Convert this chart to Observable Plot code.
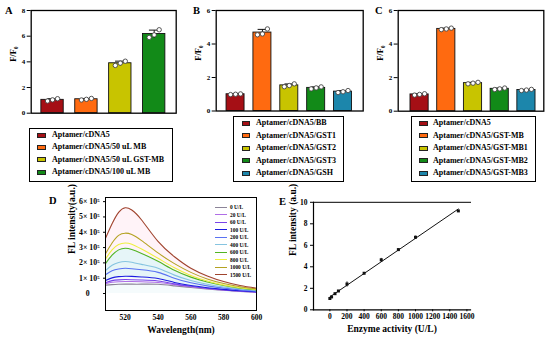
<!DOCTYPE html>
<html><head><meta charset="utf-8">
<script src="https://cdn.jsdelivr.net/npm/d3@7"></script>
<script src="https://cdn.jsdelivr.net/npm/@observablehq/plot@0.6"></script>
<style>
body{margin:0;background:#fff;}
#fig{position:relative;width:550px;height:339px;background:#fff;overflow:hidden;font-family:"Liberation Serif","Times New Roman",serif;font-weight:bold;color:#000;}
#fig svg{position:absolute;}
.lg{position:absolute;border:1px solid #000;box-sizing:border-box;background:#fff;}
.row{position:absolute;font-size:8px;line-height:10px;white-space:nowrap;}
.sw{position:absolute;border:0.8px solid #222;box-sizing:border-box;}
.letter{position:absolute;font-size:10.5px;line-height:1;}
.dl{position:absolute;font-size:5.4px;line-height:6px;white-space:nowrap;}
.dline{position:absolute;height:0;border-top:1.2px solid;}
</style></head><body><div id="fig"></div><script>
// ---------- data ----------
const RED="#a50f15", ORANGE="#ff6a10", YELLOW="#c8c400", GREEN="#128a18", TEAL="#1c86ab";

const aCategories=["Aptamer/cDNA5","Aptamer/cDNA5/50 uL MB","Aptamer/cDNA5/50 uL GST-MB","Aptamer/cDNA5/100 uL MB"];
const aRep1=[0.95,1.03,3.72,5.90];
const aRep2=[1.04,1.08,3.90,6.10];
const aRep3=[1.13,1.15,4.05,6.50];
const aColors=[RED,ORANGE,YELLOW,GREEN];

const bCategories=["Aptamer/cDNA5/BB","Aptamer/cDNA5/GST1","Aptamer/cDNA5/GST2","Aptamer/cDNA5/GST3","Aptamer/cDNA5/GSH"];
const bRep1=[0.98,4.55,1.45,1.32,1.10];
const bRep2=[1.00,4.60,1.52,1.38,1.15];
const bRep3=[1.02,4.90,1.62,1.44,1.22];
const bColors=[RED,ORANGE,YELLOW,GREEN,TEAL];

const cCategories=["Aptamer/cDNA5","Aptamer/cDNA5/GST-MB","Aptamer/cDNA5/GST-MB1","Aptamer/cDNA5/GST-MB2","Aptamer/cDNA5/GST-MB3"];
const cRep1=[0.96,4.86,1.63,1.29,1.23];
const cRep2=[1.00,4.90,1.67,1.33,1.26];
const cRep3=[1.04,4.95,1.72,1.38,1.30];
const cColors=[RED,ORANGE,YELLOW,GREEN,TEAL];

const dWavelength=[508,512,516,520,524,530,540,550,560,570,580,590,600];
const dLevels=["0 U/L","20 U/L","60 U/L","100 U/L","200 U/L","400 U/L","600 U/L","800 U/L","1000 U/L","1500 U/L"];
const dColors=["#8c8498","#b06ee6","#7a44e8","#1c1ce0","#5a72f2","#86c4e0","#52b424","#eef040","#b4a222","#a0442e"];
const d0   =[0.55,0.58,0.60,0.61,0.61,0.61,0.60,0.50,0.39,0.29,0.21,0.14,0.08];
const d20  =[0.64,0.73,0.77,0.78,0.78,0.77,0.72,0.58,0.44,0.32,0.23,0.15,0.09];
const d60  =[0.70,0.84,0.89,0.91,0.90,0.88,0.82,0.63,0.47,0.34,0.24,0.16,0.10];
const d100 =[0.85,1.02,1.10,1.13,1.12,1.08,0.98,0.72,0.52,0.38,0.27,0.18,0.11];
const d200 =[1.22,1.48,1.60,1.65,1.62,1.55,1.38,1.00,0.70,0.50,0.35,0.24,0.15];
const d400 =[1.50,1.85,2.03,2.09,2.04,1.90,1.65,1.20,0.85,0.60,0.42,0.29,0.19];
const d600 =[1.95,2.50,2.85,2.96,2.88,2.62,2.10,1.52,1.07,0.75,0.52,0.35,0.24];
const d800 =[2.25,2.85,3.20,3.30,3.22,2.90,2.30,1.68,1.18,0.82,0.56,0.38,0.26];
const d1000=[2.60,3.30,3.80,3.94,3.85,3.45,2.65,1.95,1.38,0.95,0.65,0.44,0.30];
const d1500=[3.60,4.55,5.30,5.60,5.45,4.80,3.40,2.40,1.65,1.15,0.78,0.52,0.35];
const dSeries=[d0,d20,d60,d100,d200,d400,d600,d800,d1000,d1500];

const eActivity=[0,20,60,100,200,400,600,800,1000,1500];
const eIntensity=[1.05,1.20,1.50,1.75,2.40,3.40,4.65,5.60,6.75,9.20];
const eError=[0.05,0.05,0.08,0.06,0.25,0.08,0.18,0.10,0.15,0.08];

// ---------- layout helpers ----------
const fig=document.getElementById("fig");
function put(el,left,top){el.style.left=left+"px";el.style.top=top+"px";fig.append(el);return el;}
function letter(t,left,top){const d=document.createElement("div");d.className="letter";d.textContent=t;put(d,left,top);}
const baseStyle={fontFamily:"Liberation Serif, Times New Roman, serif",fontWeight:"bold",fontSize:"7px",background:"transparent",overflow:"visible"};

function barPanel(cfg){
  const data=cfg.cats.map((c,k)=>{const r=[cfg.r1[k],cfg.r2[k],cfg.r3[k]];const m=d3.mean(r),s=d3.deviation(r);
    return {i:k+1,cat:c,mean:m,lo:m-s,hi:m+s,r1:r[0],r2:r[1],r3:r[2],color:cfg.colors[k]};});
  const dotOpt={r:2.2,fill:"white",stroke:"#444",strokeWidth:0.9};
  return Plot.plot({
    width:cfg.w,height:cfg.h,marginLeft:cfg.ml,marginRight:cfg.mr,marginTop:cfg.mt,marginBottom:cfg.mb,
    style:baseStyle,
    x:{domain:cfg.xdom,axis:null},
    y:{domain:[0,cfg.ymax],axis:null},
    color:{type:"identity"},
    marks:[
      Plot.rect(data,{x1:d=>d.i-cfg.hw,x2:d=>d.i+cfg.hw,y1:0,y2:"mean",fill:"color",stroke:"#111",strokeWidth:0.9}),
      Plot.link(data,{x1:"i",x2:"i",y1:"lo",y2:"hi",stroke:"#111",strokeWidth:1}),
      Plot.ruleY(data,{y:"hi",x1:d=>d.i-cfg.cap,x2:d=>d.i+cfg.cap,stroke:"#111",strokeWidth:1}),
      Plot.dot(data,{x:"i",y:"r1",dx:-5,...dotOpt}),
      Plot.dot(data,{x:"i",y:"r2",dx:0,...dotOpt}),
      Plot.dot(data,{x:"i",y:"r3",dx:5,...dotOpt}),
      Plot.frame({stroke:"#000",strokeWidth:1.3}),
      Plot.axisY({ticks:cfg.yticks,tickSize:4,tickPadding:2,tickFormat:d3.format("d"),label:null}),
      Plot.text(["F/F\u2080"],{frameAnchor:"left",dx:-cfg.labDx,rotate:-90,fontSize:8.5})
    ]
  });
}

function boxLegend(cfg){
  const box=document.createElement("div");box.className="lg";
  box.style.width=cfg.w+"px";box.style.height=cfg.h+"px";
  put(box,cfg.left,cfg.top);
  cfg.labels.forEach((lab,k)=>{
    const cy=cfg.row0+k*cfg.step;
    const sw=document.createElement("div");sw.className="sw";
    sw.style.width="8.5px";sw.style.height="5px";sw.style.background=cfg.colors[k];
    put(sw,cfg.swX,cy-2.5);
    const t=document.createElement("div");t.className="row";t.textContent=lab;
    put(t,cfg.txX,cy-5);
  });
}

// ---------- Panel A ----------
put(barPanel({cats:aCategories,r1:aRep1,r2:aRep2,r3:aRep3,colors:aColors,
  w:185,h:125,ml:30.7,mr:9.3,mt:10,mb:12.3,xdom:[0.37,4.65],ymax:8,yticks:[0,2,4,6,8],hw:0.33,cap:0.14,labDx:18}),0,0);
boxLegend({labels:aCategories,colors:aColors,left:29,top:127.5,w:144,h:54.5,row0:135,step:12.4,swX:37,txX:52});
letter("A",5,6);

// ---------- Panel B ----------
put(barPanel({cats:bCategories,r1:bRep1,r2:bRep2,r3:bRep3,colors:bColors,
  w:185,h:125,ml:35.7,mr:2.3,mt:10,mb:14.5,xdom:[0.28,5.75],ymax:6,yticks:[0,2,4,6],hw:0.335,cap:0.16,labDx:18}),180,0);
boxLegend({labels:bCategories,colors:bColors,left:233,top:116,w:111,h:66,row0:123,step:12.5,swX:241.5,txX:256});
letter("B",193,6);

// ---------- Panel C ----------
put(barPanel({cats:cCategories,r1:cRep1,r2:cRep2,r3:cRep3,colors:cColors,
  w:190,h:125,ml:37.7,mr:6.7,mt:10,mb:14.3,xdom:[0.2,5.65],ymax:6,yticks:[0,2,4,6],hw:0.34,cap:0.16,labDx:18}),360,0);
boxLegend({labels:cCategories,colors:cColors,left:410.5,top:116,w:125,h:65.5,row0:123,step:12.5,swX:419,txX:433});
letter("C",375,6);

// ---------- Panel D ----------
const dData=dLevels.flatMap((lv,k)=>dWavelength.map((w,j)=>({level:lv,w,v:dSeries[k][j]})));
put(Plot.plot({
  width:225,height:144,marginLeft:65,marginRight:9,marginTop:2,marginBottom:29,
  style:baseStyle,
  x:{domain:[508,600],axis:null},
  y:{domain:[-1.11,6.27],axis:null},
  color:{domain:dLevels,range:dColors},
  marks:[
    Plot.areaY(dData.filter(d=>d.level==="1500 U/L"),{x:"w",y:"v",fill:"#ffdcea",fillOpacity:0.35,curve:"natural"}),
    Plot.areaY(dData.filter(d=>d.level==="600 U/L"),{x:"w",y:"v",fill:"#d6f6f8",fillOpacity:0.6,curve:"natural"}),
    Plot.areaY(dData.filter(d=>d.level==="100 U/L"),{x:"w",y:"v",fill:"#ffffff",fillOpacity:0.6,curve:"natural"}),
    Plot.line(dData,{x:"w",y:"v",stroke:"level",strokeWidth:1.1,curve:"natural"}),
    Plot.frame({stroke:"#000",strokeWidth:1}),
    Plot.axisX({ticks:[520,540,560,580,600],tickSize:0,tickPadding:4,tickFormat:d3.format("d"),label:null,fontSize:7.5}),
    Plot.axisY({ticks:[0,1,2,3,4,5,6],tickSize:2,tickPadding:4,
      tickFormat:d=>d===0?"0     ":d+"\u00d7 10\u2075",label:null,fontSize:7.8}),
    Plot.text(["Wavelength(nm)"],{frameAnchor:"bottom",dy:22,fontSize:9.5}),
    Plot.text(["FL intensity(a.u.)"],{frameAnchor:"left",dx:-34,rotate:-90,fontSize:9.5})
  ]
}),40,195);
(function(){
  dLevels.forEach((lv,k)=>{
    const cy=207.3+k*7.5;
    const ln=document.createElement("div");ln.className="dline";ln.style.width="12px";ln.style.borderTopColor=dColors[k];
    put(ln,215,cy-0.6);
    const t=document.createElement("div");t.className="dl";t.textContent=lv;put(t,230,cy-3);
  });
})();
letter("D",49,196);

// ---------- Panel E ----------
const eData=eActivity.map((a,k)=>({a,v:eIntensity[k],lo:eIntensity[k]-eError[k],hi:eIntensity[k]+eError[k]}));
put(Plot.plot({
  width:280,height:144,marginLeft:43,marginRight:80,marginTop:6.8,marginBottom:29.7,
  style:baseStyle,
  x:{domain:[-191,1642],axis:null},
  y:{domain:[0,10],axis:null},
  marks:[
    Plot.frame({anchor:"left",stroke:"#000",strokeWidth:1.2}),
    Plot.frame({anchor:"bottom",stroke:"#000",strokeWidth:1.2}),
    Plot.frame({anchor:"top",stroke:"#000",strokeWidth:1}),
    Plot.linearRegressionY(eData,{x:"a",y:"v",ci:0,stroke:"#111",strokeWidth:1}),
    Plot.link(eData,{x1:"a",x2:"a",y1:"lo",y2:"hi",stroke:"#111",strokeWidth:0.8}),
    Plot.dot(eData,{x:"a",y:"v",symbol:"square",r:1.7,fill:"#111"}),
    Plot.axisY({ticks:[0,2,4,6,8,10],tickSize:3,tickPadding:3,tickFormat:d3.format("d"),label:null,fontSize:7.5}),
    Plot.axisX({ticks:d3.range(0,1601,200),tickSize:2,tickPadding:2,tickFormat:d3.format("d"),label:null,fontSize:7.5}),
    Plot.text(["Enzyme activity (U/L)"],{frameAnchor:"bottom",dy:22,fontSize:9.5}),
    Plot.text(["FL intensity (a.u.)"],{frameAnchor:"left",dx:-21,rotate:-90,fontSize:9.5})
  ]
}),270,195);
letter("E",279,197);
</script></body></html>
